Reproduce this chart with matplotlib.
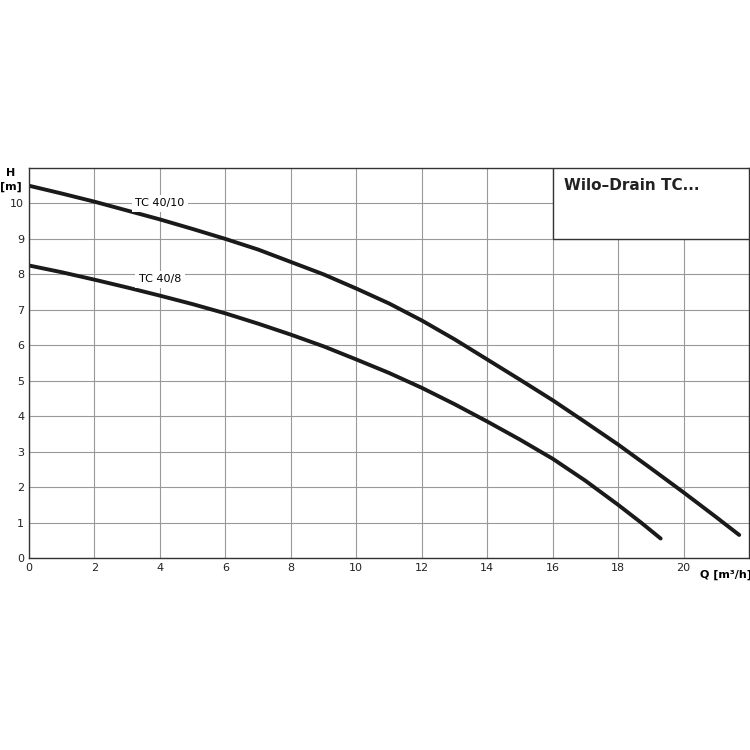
import numpy as np
import matplotlib.pyplot as plt
from matplotlib.patches import Rectangle

q_10 = [0, 1, 2, 3, 4, 5, 6, 7, 8, 9, 10, 11, 12, 13, 14, 15, 16, 17, 18, 19, 20, 21, 21.7]
h_10 = [10.5, 10.28, 10.05, 9.8, 9.55, 9.28, 9.0, 8.7, 8.35, 8.0, 7.6, 7.18, 6.7,
        6.17, 5.6, 5.03, 4.45, 3.83, 3.2, 2.53, 1.85, 1.15, 0.65]
q_8 = [0, 1, 2, 3, 4, 5, 6, 7, 8, 9, 10, 11, 12, 13, 14, 15, 16, 17, 18, 18.7, 19.3]
h_8 = [8.25, 8.06, 7.85, 7.63, 7.4, 7.16, 6.9, 6.61, 6.3, 5.97, 5.6, 5.22, 4.8,
       4.34, 3.85, 3.34, 2.8, 2.18, 1.5, 1.0, 0.55]
x_ticks = [0, 2, 4, 6, 8, 10, 12, 14, 16, 18, 20]
y_ticks = [0, 1, 2, 3, 4, 5, 6, 7, 8, 9, 10]

fig = plt.figure(figsize=(7.5, 7.5), dpi=100)
ax = fig.add_axes([0.0387, 0.256, 0.96, 0.52])
ax.set_xlim(0, 22)
ax.set_ylim(0, 11)
ax.set_xticks(x_ticks)
ax.set_yticks(y_ticks)
ax.grid(color='#999999', linewidth=0.8)
ax.tick_params(length=0, labelsize=8, colors='#222222')
for s in ax.spines.values():
    s.set_color('#333333')
    s.set_linewidth(1)

ax.plot(q_10, h_10, color='#1a1a1a', lw=2.8, solid_capstyle='round', solid_joinstyle='round')
ax.plot(q_8, h_8, color='#1a1a1a', lw=2.8, solid_capstyle='round', solid_joinstyle='round')

bb = dict(facecolor='white', edgecolor='none', pad=2.5)
ax.text(4, 10.0, 'TC 40/10', fontsize=8, ha='center', va='center', bbox=bb, zorder=5)
ax.text(4, 7.86, 'TC 40/8', fontsize=8, ha='center', va='center', bbox=bb, zorder=5)

ax.add_patch(Rectangle((16, 9), 6, 2, facecolor='white', edgecolor='#333333', lw=1, zorder=3))
ax.text(16.35, 10.5, 'Wilo–Drain TC...', fontsize=11, fontweight='semibold',
        va='center', zorder=4, color='#222222')

fig.text(0.014, 0.77, 'H', fontsize=8, fontweight='bold', va='center', ha='center')
fig.text(0.014, 0.751, '[m]', fontsize=8, fontweight='bold', va='center', ha='center')
ax.text(21.3, -0.48, 'Q [m³/h]', fontsize=8, fontweight='bold', va='center', ha='center')

fig.savefig('out.png', dpi=100)
